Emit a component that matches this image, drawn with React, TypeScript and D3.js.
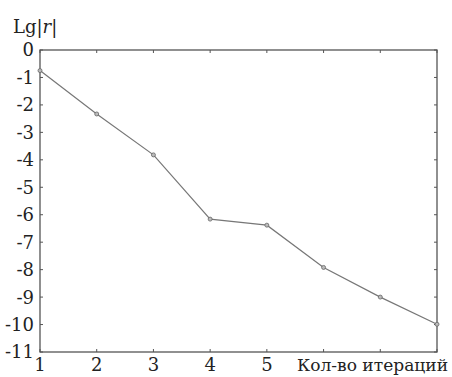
import React from "react";
import * as d3 from "d3";

const iterations = [1, 2, 3, 4, 5, 6, 7, 8];
const lgResidual = [-0.75, -2.33, -3.82, -6.16, -6.38, -7.92, -9.0, -9.99];
const xTickLabels = ["1", "2", "3", "4", "5"];
const yTicks = [0, -1, -2, -3, -4, -5, -6, -7, -8, -9, -10, -11];

const W = 452;
const H = 377;
const M = { left: 40, right: 437, top: 50, bottom: 352 };
const FONT = "DejaVu Serif";

export default function App() {
  const x = d3.scaleLinear().domain([1, 8]).range([M.left, M.right]);
  const y = d3.scaleLinear().domain([0, -11]).range([M.top, M.bottom]);
  const line = d3
    .line<number>()
    .x((_, i) => x(iterations[i]))
    .y((d) => y(d));
  const axisColor = "#555";
  const tick = 3;
  return (
    <svg
      width={W}
      height={H}
      fontFamily={FONT}
      fontSize={18}
      style={{ position: "absolute", left: 0, top: 0, background: "#fff", fontFamily: FONT }}
    >
      <rect x={0} y={0} width={W} height={H} fill="#fff" />
      {/* frame */}
      <rect
        x={M.left}
        y={M.top}
        width={M.right - M.left}
        height={M.bottom - M.top}
        fill="none"
        stroke={axisColor}
        strokeWidth={1.3}
      />
      {/* x ticks, bottom and top */}
      {iterations.map((v) => (
        <g key={"xt" + v}>
          <line x1={x(v)} x2={x(v)} y1={M.bottom} y2={M.bottom - tick} stroke={axisColor} />
          <line x1={x(v)} x2={x(v)} y1={M.top} y2={M.top + tick} stroke={axisColor} />
        </g>
      ))}
      {/* y ticks, left and right */}
      {yTicks.map((v) => (
        <g key={"yt" + v}>
          <line x1={M.left} x2={M.left + tick} y1={y(v)} y2={y(v)} stroke={axisColor} />
          <line x1={M.right} x2={M.right - tick} y1={y(v)} y2={y(v)} stroke={axisColor} />
          <text x={34} y={y(v)} dy="0.36em" textAnchor="end" fill="#222">
            {v === 0 ? "0" : "-" + Math.abs(v)}
          </text>
        </g>
      ))}
      {xTickLabels.map((t, i) => (
        <text key={"xl" + t} x={x(iterations[i])} y={371} textAnchor="middle" fill="#222">
          {t}
        </text>
      ))}
      <text
        x={297}
        y={371}
        fontSize={17.5}
        textLength={151}
        lengthAdjust="spacingAndGlyphs"
        fill="#222"
      >
        Кол-во итераций
      </text>
      <text x={13} y={33} fill="#222">
        Lg|<tspan fontStyle="italic">r</tspan>|
      </text>
      {/* residual curve */}
      <path d={line(lgResidual) || ""} fill="none" stroke="#777" strokeWidth={1.2} />
      {lgResidual.map((v, i) => (
        <circle
          key={"pt" + i}
          cx={x(iterations[i])}
          cy={y(v)}
          r={2}
          fill="#bbb"
          stroke="#666"
          strokeWidth={0.8}
        />
      ))}
    </svg>
  );
}
